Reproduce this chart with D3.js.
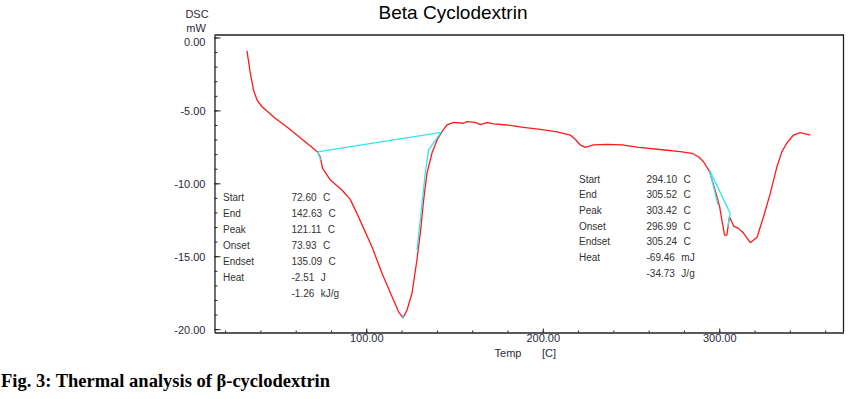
<!DOCTYPE html>
<html>
<head>
<meta charset="utf-8">
<script src="https://cdn.jsdelivr.net/npm/d3@7"></script>
<style>
  body { margin: 0; background: #fff; }
  svg { display: block; font-family: "Liberation Sans", Arial, sans-serif; }
  .tick text { fill: #2a2a3a; font-size: 11px; }
  .ann { fill: #333; font-size: 10px; }
</style>
</head>
<body>
<svg width="855" height="399"></svg>
<script>
// DSC trace
var tempC = [32.4, 34.3, 36.1, 38.1, 40.9, 48.4, 56.0, 63.6, 69.2, 72.4, 73.9, 75.2, 79.6, 86.2,
  90.9, 94.7, 98.5, 103.2, 108.9, 114.6, 118.3, 120.8, 123.1, 125.9, 128.7, 130.6, 132.5, 134.4,
  137.2, 140.1, 142.9, 145.7, 149.5, 155.1, 157.1, 161.8, 164.6, 168.4, 172.1, 179.7, 189.1, 198.6,
  208.0, 215.6, 218.4, 221.2, 224.1, 228.8, 236.4, 244.9, 254.3, 266.6, 277.9, 284.5, 288.3, 291.1,
  294.5, 296.8, 298.7, 300.2, 301.5, 303.0, 304.3, 305.8, 308.1, 310.9, 313.8, 317.6, 321.4, 325.1,
  328.9, 332.7, 335.5, 338.4, 342.1, 345.9, 351.6];
var dscMW = [-0.91, -2.46, -3.60, -4.29, -4.75, -5.54, -6.23, -6.98, -7.53, -7.85, -8.18, -8.97, -9.77, -10.46,
  -11.10, -12.06, -13.09, -14.35, -16.17, -17.78, -18.81, -19.22, -18.69, -17.54, -15.26, -13.43, -11.15, -9.31,
  -7.94, -7.03, -6.46, -6.00, -5.82, -5.88, -5.77, -5.82, -5.98, -5.84, -5.93, -6.00, -6.16, -6.30,
  -6.48, -6.69, -6.98, -7.37, -7.53, -7.37, -7.33, -7.37, -7.53, -7.68, -7.83, -7.94, -8.18, -8.52,
  -9.20, -10.12, -10.92, -11.60, -12.52, -13.55, -13.55, -12.29, -12.93, -13.09, -13.43, -14.07, -13.70, -12.29,
  -10.69, -8.86, -7.83, -7.22, -6.69, -6.53, -6.69];

// analysis construction lines (cyan): [temp, mW]
var peak1Baseline = [[72.4, -7.85], [142.6, -6.50]];
var peak1Onset = [[72.4, -7.85], [74.2, -8.40]];
var peak1Endset = [[141.9, -6.57], [135.3, -7.72], [133.4, -9.31], [130.6, -12.52], [128.7, -14.57]];
var peak1Mark = [[120.5, -19.05], [121.1, -19.25]];
var peak2Baseline = [[294.5, -9.09], [306.2, -12.06]];
var peak2Onset = [[294.5, -9.09], [299.3, -11.49]];
var peak2Endset = [[306.2, -12.06], [304.9, -12.93]];

var yMajor = [0, -5, -10, -15, -20];
var yMinor = d3.range(0, -21, -1);
var xMajor = [100, 200, 300];
var xMinor = d3.range(20, 371, 20);

var annLabels = ["Start", "End", "Peak", "Onset", "Endset", "Heat", ""];
var leftValues = ["72.60", "142.63", "121.11", "73.93", "135.09", "-2.51", "-1.26"];
var leftUnits = ["C", "C", "C", "C", "C", "J", "kJ/g"];
var rightValues = ["294.10", "305.52", "303.42", "296.99", "305.24", "-69.46", "-34.73"];
var rightUnits = ["C", "C", "C", "C", "C", "mJ", "J/g"];

var svg = d3.select("svg");
var plot = { left: 214.5, right: 843.5, top: 35, bottom: 332.5 };

var x = d3.scaleLinear().domain([14.0, 370.4]).range([plot.left, plot.right]);
var y = d3.scaleLinear().domain([0.17, -20.23]).range([plot.top, plot.bottom]);

// plain hyphen minus like the instrument software
var fmt = function(d) { return d3.format(".2f")(d).replace("\u2212", "-"); };

// frame top + right
svg.append("path")
  .attr("d", "M" + plot.left + "," + plot.top + "H" + plot.right + "V" + plot.bottom)
  .attr("fill", "none")
  .attr("stroke", "#222")
  .attr("stroke-width", 1.3);

// y axis
svg.append("g")
  .attr("transform", "translate(" + plot.left + ",0)")
  .call(d3.axisLeft(y).tickValues(yMinor).tickSize(-3).tickFormat(""))
  .call(function(g) { g.select(".domain").remove(); })
  .selectAll("line").attr("stroke", "#222");

var yAxis = svg.append("g")
  .attr("transform", "translate(" + plot.left + ",0)")
  .call(d3.axisLeft(y).tickValues(yMajor).tickSizeInner(-6).tickSizeOuter(0).tickPadding(9)
    .tickFormat(fmt));
yAxis.select(".domain").attr("stroke", "#222").attr("stroke-width", 1.3);
yAxis.selectAll("line").attr("stroke", "#222");
yAxis.selectAll("text").attr("font-family", null).attr("font-size", null)
  .attr("dy", function(d) { return d === 0 ? "0.7em" : "0.35em"; });

// x axis
svg.append("g")
  .attr("transform", "translate(0," + plot.bottom + ")")
  .call(d3.axisBottom(x).tickValues(xMinor).tickSize(-2).tickFormat(""))
  .call(function(g) { g.select(".domain").remove(); })
  .selectAll("line").attr("stroke", "#222");

var xAxis = svg.append("g")
  .attr("transform", "translate(0," + plot.bottom + ")")
  .call(d3.axisBottom(x).tickValues(xMajor).tickSizeInner(-4).tickSizeOuter(0).tickPadding(2)
    .tickFormat(fmt));
xAxis.select(".domain").attr("stroke", "#222").attr("stroke-width", 1.3);
xAxis.selectAll("line").attr("stroke", "#222");
xAxis.selectAll("text").attr("font-family", null).attr("font-size", null);

// axis titles
svg.append("text").attr("x", 197).attr("y", 18).attr("text-anchor", "middle")
  .attr("font-size", 11).attr("fill", "#2a2a3a").text("DSC");
svg.append("text").attr("x", 196).attr("y", 31.5).attr("text-anchor", "middle")
  .attr("font-size", 11).attr("fill", "#2a2a3a").text("mW");
svg.append("text").attr("x", 508).attr("y", 357).attr("text-anchor", "middle")
  .attr("font-size", 11).attr("fill", "#2a2a3a").text("Temp");
svg.append("text").attr("x", 549).attr("y", 357).attr("text-anchor", "middle")
  .attr("font-size", 11).attr("fill", "#2a2a3a").text("[C]");

// title
svg.append("text").attr("x", 453).attr("y", 19).attr("text-anchor", "middle")
  .attr("font-size", 19).attr("fill", "#000").text("Beta Cyclodextrin");

// curves
var line = d3.line()
  .x(function(d) { return x(d[0]); })
  .y(function(d) { return y(d[1]); });

svg.append("path")
  .datum(d3.zip(tempC, dscMW))
  .attr("fill", "none")
  .attr("stroke", "#ff1a1a")
  .attr("stroke-width", 1.3)
  .attr("stroke-linejoin", "round")
  .attr("d", line);

[peak1Baseline, peak1Onset, peak1Endset, peak1Mark, peak2Baseline, peak2Onset, peak2Endset].forEach(function(seg) {
  svg.append("path")
    .datum(seg)
    .attr("fill", "none")
    .attr("stroke", "#33e6ea")
    .attr("stroke-width", 1.3)
    .attr("d", line);
});

// annotation blocks
function drawBlock(lx, vx, y0, dy, values, units) {
  var g = svg.append("g").attr("class", "ann");
  annLabels.forEach(function(lab, i) {
    var yy = y0 + i * dy + 3.5;
    if (lab) g.append("text").attr("x", lx).attr("y", yy).text(lab);
    var t = g.append("text").attr("x", vx).attr("y", yy);
    t.append("tspan").text(values[i]);
    t.append("tspan").attr("dx", 6.5).text(units[i]);
  });
}
drawBlock(223, 291.5, 197.5, 16, leftValues, leftUnits);
drawBlock(579, 646.5, 179, 15.7, rightValues, rightUnits);

// caption
svg.append("text").attr("x", 1).attr("y", 387)
  .attr("font-family", "'Liberation Serif', 'Times New Roman', serif")
  .attr("font-weight", "bold").attr("font-size", 18.5).attr("fill", "#000")
  .text("Fig. 3: Thermal analysis of \u03b2-cyclodextrin");
</script>
</body>
</html>
